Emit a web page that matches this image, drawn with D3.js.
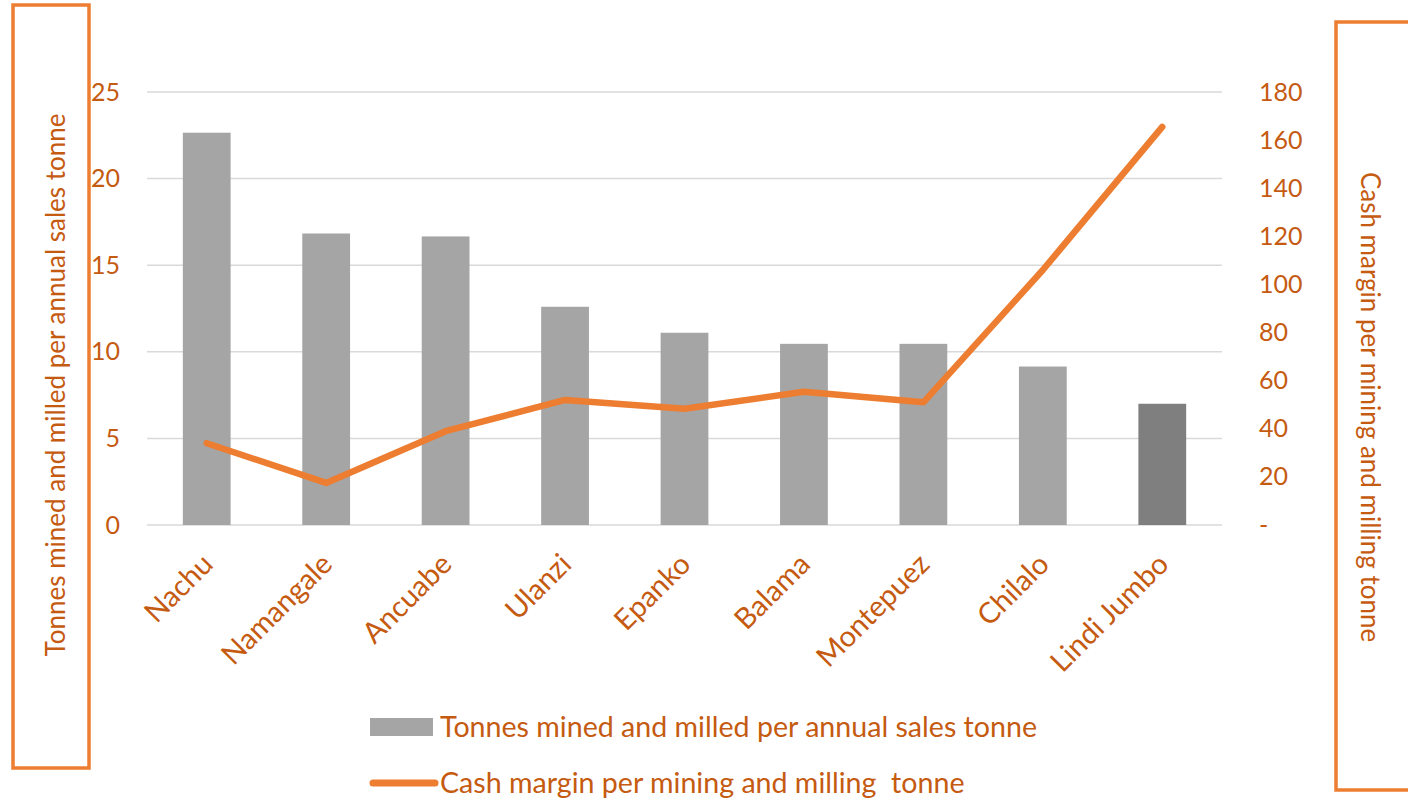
<!DOCTYPE html>
<html>
<head>
<meta charset="utf-8">
<script src="https://cdnjs.cloudflare.com/ajax/libs/d3/7.8.5/d3.min.js"></script>
<style>
  body { margin: 0; background: #fff; }
  text { fill: #C55A11; font-family: Lato, sans-serif; }
</style>
</head>
<body>
<svg id="chart" width="1408" height="800"></svg>
<script>
// data
var mines = ["Nachu", "Namangale", "Ancuabe", "Ulanzi", "Epanko", "Balama", "Montepuez", "Chilalo", "Lindi Jumbo"];
var tonnesPerSale = [22.65, 16.83, 16.66, 12.6, 11.1, 10.46, 10.46, 9.15, 7.0];
var cashMargin = [34, 17.5, 39, 52, 48.3, 55.4, 51, 106, 165.5];
var leftTicks = [0, 5, 10, 15, 20, 25];
var rightTicks = [0, 20, 40, 60, 80, 100, 120, 140, 160, 180];

var barName = "Tonnes mined and milled per annual sales tonne";
var lineName = "Cash margin per mining and milling  tonne";
var rightTitle = "Cash margin per mining and milling tonne";

var orange = "#ED7D31";
var svg = d3.select("#chart");

var plot = { left: 147, right: 1222, top: 92, bottom: 525 };

var x = d3.scaleBand().domain(mines).range([plot.left, plot.right]).paddingInner(0.6).paddingOuter(0.3);
var y = d3.scaleLinear().domain([0, 25]).range([plot.bottom, plot.top]);
var y2 = d3.scaleLinear().domain([0, 180]).range([plot.bottom, plot.top]);

// gridlines
svg.append("g").selectAll("line")
    .data(leftTicks)
  .enter().append("line")
    .attr("x1", plot.left).attr("x2", plot.right)
    .attr("y1", d => y(d)).attr("y2", d => y(d))
    .attr("stroke", "#D9D9D9").attr("stroke-width", 1.5);

// bars
svg.append("g").selectAll("rect")
    .data(tonnesPerSale)
  .enter().append("rect")
    .attr("x", (d, i) => x(mines[i]))
    .attr("width", x.bandwidth())
    .attr("y", d => y(d))
    .attr("height", d => y(0) - y(d))
    .attr("fill", (d, i) => i == mines.length - 1 ? "#7F7F7F" : "#A5A5A5");

// line
var line = d3.line()
    .x((d, i) => x(mines[i]) + x.bandwidth() / 2)
    .y(d => y2(d));

svg.append("path")
    .datum(cashMargin)
    .attr("d", line)
    .attr("fill", "none")
    .attr("stroke", orange)
    .attr("stroke-width", 6.5)
    .attr("stroke-linejoin", "round")
    .attr("stroke-linecap", "round");

// left axis
var leftAxis = svg.append("g")
    .attr("transform", "translate(120,0)")
    .call(d3.axisLeft(y).tickValues(leftTicks).tickSize(0).tickPadding(0));
leftAxis.select(".domain").remove();
leftAxis.selectAll("text")
    .attr("font-family", "Lato").attr("font-size", 25)
    .style("fill", "#C55A11");

// right axis
var rightAxis = svg.append("g")
    .attr("transform", "translate(1259,0)")
    .call(d3.axisRight(y2).tickValues(rightTicks).tickSize(0).tickPadding(0)
      .tickFormat(d => d == 0 ? "-" : d));
rightAxis.select(".domain").remove();
rightAxis.selectAll("text")
    .attr("font-family", "Lato").attr("font-size", 25)
    .style("fill", "#C55A11");

// category labels
svg.append("g").selectAll("text")
    .data(mines)
  .enter().append("text")
    .attr("transform", d => "translate(" + (x(d) + x.bandwidth() / 2 + 8) + ",566) rotate(-45)")
    .attr("text-anchor", "end")
    .attr("font-size", 29)
    .text(d => d);

// axis title boxes
svg.append("rect")
    .attr("x", 13).attr("y", 5).attr("width", 76).attr("height", 763)
    .attr("fill", "none").attr("stroke", orange).attr("stroke-width", 3.5);
svg.append("text")
    .attr("transform", "translate(65,385) rotate(-90)")
    .attr("text-anchor", "middle")
    .attr("font-size", 26)
    .text(barName);

svg.append("rect")
    .attr("x", 1336).attr("y", 22).attr("width", 80).attr("height", 768)
    .attr("fill", "none").attr("stroke", orange).attr("stroke-width", 3.5);
svg.append("text")
    .attr("transform", "translate(1361,407) rotate(90)")
    .attr("text-anchor", "middle")
    .attr("font-size", 26)
    .text(rightTitle);

// legend
var legend = svg.append("g");
legend.append("rect")
    .attr("x", 370).attr("y", 718).attr("width", 63).attr("height", 18)
    .attr("fill", "#A5A5A5");
legend.append("text")
    .attr("x", 440).attr("y", 737)
    .attr("font-size", 28.6)
    .text(barName);
legend.append("line")
    .attr("x1", 373).attr("x2", 435).attr("y1", 783).attr("y2", 783)
    .attr("stroke", orange).attr("stroke-width", 7).attr("stroke-linecap", "round");
legend.append("text")
    .attr("x", 440).attr("y", 793)
    .attr("font-size", 28.6)
    .style("white-space", "pre")
    .text(lineName);
</script>
</body>
</html>
